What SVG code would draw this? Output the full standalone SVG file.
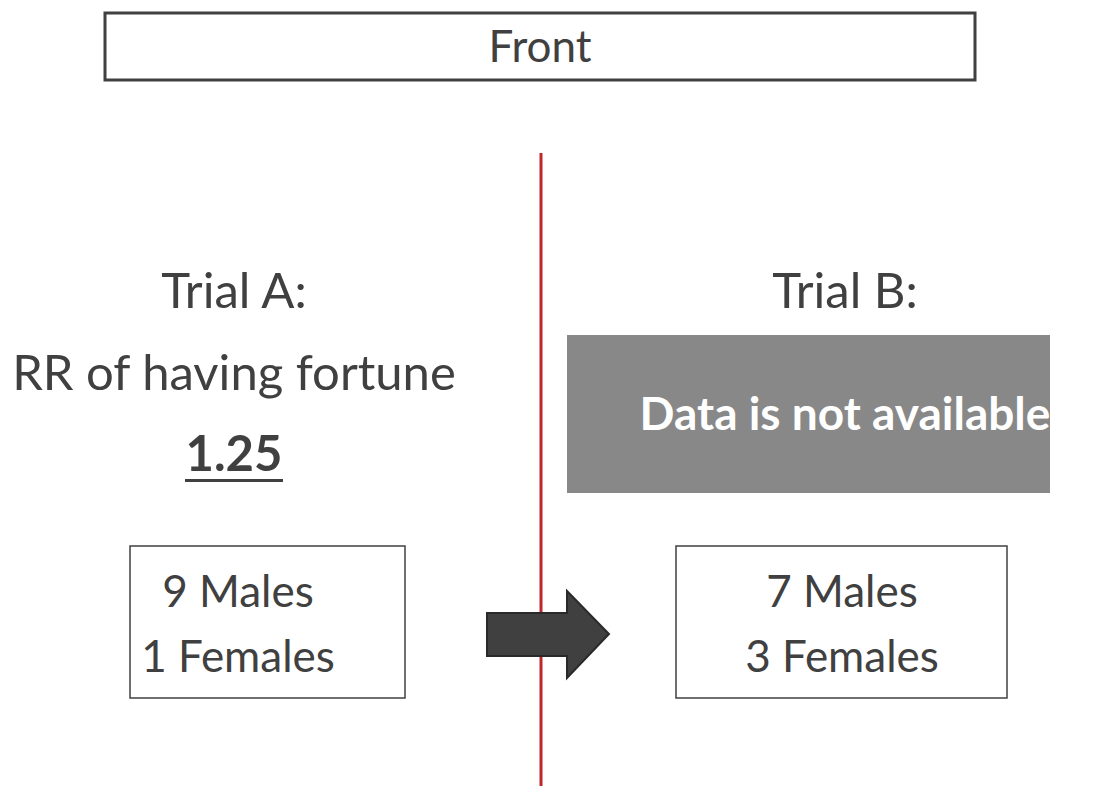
<svg xmlns="http://www.w3.org/2000/svg" width="1106" height="786" viewBox="0 0 1106 786">
<style>
text{font-family:"Source Sans Pro","Lato","Noto Sans",sans-serif;fill:#404040;text-anchor:middle}
.big{font-size:49px}
.mid{font-size:44px}
.box{fill:#fff;stroke:#404040;stroke-width:1.5}
</style>
<rect width="1106" height="786" fill="#fff"/>
<g id="front">
<rect x="105" y="13" width="870" height="67" fill="#fff" stroke="#404040" stroke-width="3"/>
<text x="540" y="62" style="font-size:44px">Front</text>
</g>
<g id="divider">
<line x1="541" y1="153" x2="541" y2="786" stroke="#c0272d" stroke-width="3"/>
</g>
<g id="trialA">
<text class="big" x="234" y="308">Trial A:</text>
<text class="big" x="234" y="390">RR of having fortune</text>
<text class="big" x="234" y="471" style="font-weight:bold">1.25</text>
<rect x="185" y="479" width="98" height="3" fill="#404040"/>
</g>
<g id="boxA">
<rect class="box" x="130" y="546" width="275" height="152"/>
<text class="mid" x="238" y="607">9 Males</text>
<text class="mid" x="238" y="672">1 Females</text>
</g>
<g id="trialB">
<text class="big" x="845" y="308">Trial B:</text>
<rect x="567" y="335" width="483" height="158" fill="#888888"/>
<text x="845" y="430" style="font-size:46px;font-weight:bold;fill:#fff">Data is not available</text>
</g>
<g id="boxB">
<rect class="box" x="676" y="546" width="331" height="152"/>
<text class="mid" x="842" y="607">7 Males</text>
<text class="mid" x="842" y="672">3 Females</text>
</g>
<g id="connectors">
<path d="M487 613 H567 V591 L609 634 L567 678 V656 H487 Z" fill="#404040" stroke="#2a2a2a" stroke-width="2" stroke-linejoin="miter"/>
</g>
</svg>
